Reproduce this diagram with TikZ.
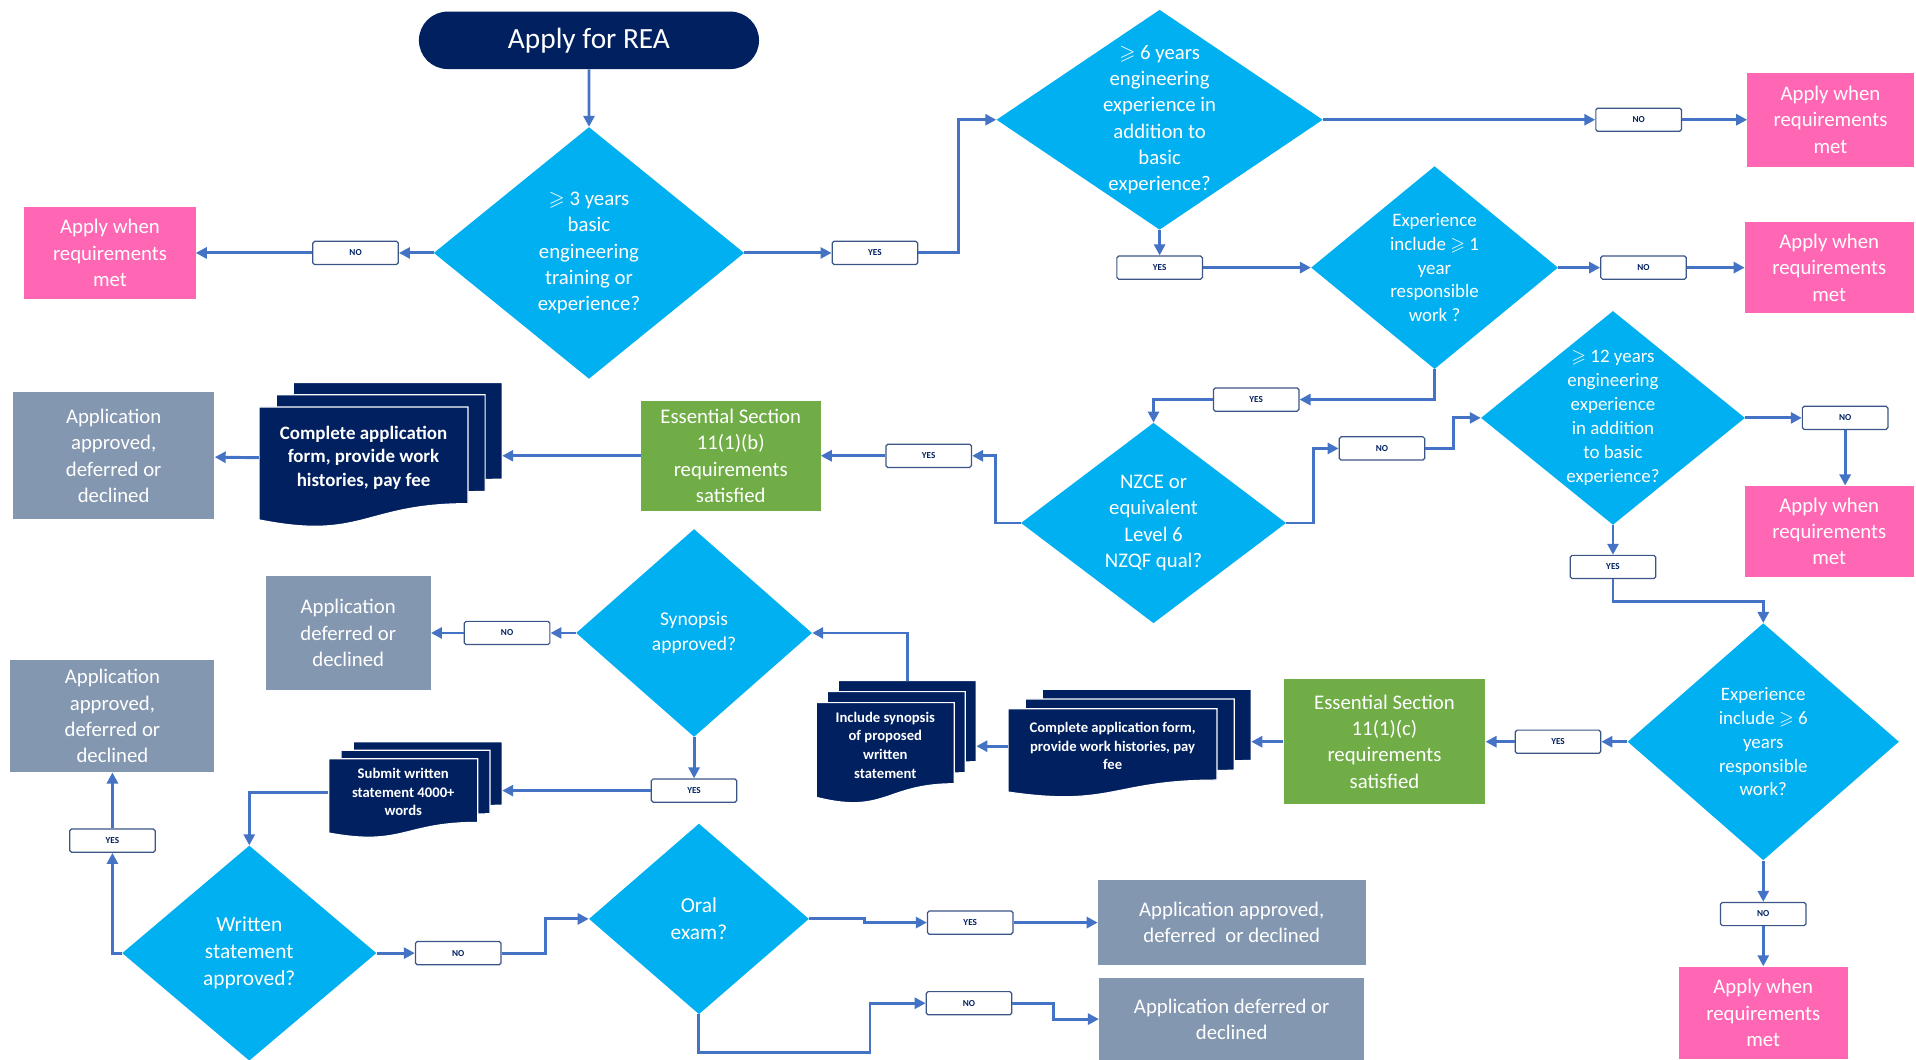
\documentclass[tikz,border=0pt]{standalone}
\usepackage{amsmath,amssymb}
\usepackage{fontspec}
\setmainfont{Carlito}
\usetikzlibrary{shapes,arrows.meta,positioning,calc}

\definecolor{navy}{HTML}{002060}
\definecolor{decblue}{HTML}{00B0F0}
\definecolor{pinkfill}{HTML}{FF66B3}
\definecolor{greenfill}{HTML}{70AD47}
\definecolor{greyfill}{HTML}{8497B0}
\definecolor{flowblue}{HTML}{4472C4}
\definecolor{tagedge}{HTML}{3B5587}

\newcommand{\bigq}{\fontsize{17}{21.5}\selectfont}
\newcommand{\smallq}{\fontsize{15.5}{19.5}\selectfont}
\newcommand{\docbig}{\fontsize{15.5}{19.5}\selectfont\bfseries}
\newcommand{\docsmall}{\fontsize{12}{15.3}\selectfont\bfseries}

% stack of three documents: name, left, top, width, height, dx, dy, font, text
\newcommand{\docstack}[9]{%
  \foreach \k in {2,1,0}
    \filldraw[docsheet,shift={(#2+\k*#6,#3-\k*#7)}] (0,0) -- (#4,0) -- (#4,0.8*#5)
      .. controls (0.5*#4,0.8*#5) and (0.5*#4,1.107*#5) .. (0,0.934*#5) -- cycle;
  \node[doctext,font=#8,minimum width=#4] (#1) at (#2+#4/2,#3+0.42*#5) {#9};
  \coordinate (#1-back) at (#2+#4+2*#6,#3+0.42*#5);
  \coordinate (#1-top) at (#2+#4/2+2*#6,#3-2*#7);
}

\tikzset{
  terminal/.style={rounded rectangle,fill=navy,text=white,font=\fontsize{24}{28}\selectfont},
  decision/.style={diamond,fill=decblue,inner sep=0pt},
  qtext/.style={text=white,align=center,font=\bigq},
  outcome/.style={rectangle,text=white,align=center,inner sep=2pt,font=\bigq},
  applybox/.style={outcome,fill=pinkfill},
  resultbox/.style={outcome,fill=greyfill},
  essbox/.style={outcome,fill=greenfill},
  tag/.style={rectangle,rounded corners=1.5pt,draw=tagedge,line width=1pt,fill=white,
    minimum width=70,minimum height=19,inner sep=0pt,text=navy,
    font=\fontsize{7.5}{9}\selectfont\bfseries},
  docsheet/.style={fill=navy,draw=white,line width=1pt},
  doctext/.style={text=white,align=center,inner sep=0pt},
  flow/.style={draw=flowblue,line width=2.4pt,-{Triangle[length=9pt,width=9pt]}}
}

\begin{document}
\begin{tikzpicture}[x=1pt,y=-1pt]
\useasboundingbox (0,0) rectangle (1568,867);

% Start and first check
\node[terminal,minimum width=285,minimum height=47] (start) at (482,33) {Apply for REA};
\node[decision,minimum width=254,minimum height=206,
  label={[qtext]center:{$\geqslant$ 3 years\\basic\\engineering\\training or\\experience?}}] (basic) at (482,207) {};
\node[applybox,minimum width=140,minimum height=75] (apply1) at (90,207) {Apply when\\requirements\\met};
\node[tag] (no1) at (291,207) {NO};
\node[tag] (yes1) at (716,207) {YES};

% 6 years branch
\node[decision,minimum width=267,minimum height=180,
  label={[qtext]center:{$\geqslant$ 6 years\\engineering\\experience in\\addition to\\basic\\experience?}}] (six) at (949,98) {};
\node[tag] (no2) at (1341,98) {NO};
\node[applybox,minimum width=136,minimum height=77] (apply2) at (1498,98) {Apply when\\requirements\\met};
\node[tag] (yes2) at (949,219) {YES};
\node[decision,minimum width=202,minimum height=166,
  label={[qtext,font=\smallq]center:{Experience\\include $\geqslant$ 1\\year\\responsible\\work ?}}] (resp1) at (1174,219) {};
\node[tag] (no3) at (1345,219) {NO};
\node[applybox,minimum width=138,minimum height=74] (apply3) at (1497,219) {Apply when\\requirements\\met};
\node[tag] (yes3) at (1028,327) {YES};

% NZCE and 12 years
\node[decision,minimum width=217,minimum height=164,
  label={[qtext]center:{NZCE or\\equivalent\\Level 6\\NZQF qual?}}] (nzce) at (944,428) {};
\node[tag] (no4) at (1131,367) {NO};
\node[decision,minimum width=216,minimum height=175,
  label={[qtext,font=\smallq]center:{$\geqslant$ 12 years\\engineering\\experience\\in addition\\to basic\\experience?}}] (twelve) at (1320,342) {};
\node[tag] (no5) at (1510,342) {NO};
\node[applybox,minimum width=138,minimum height=75] (apply4) at (1497,435) {Apply when\\requirements\\met};
\node[tag] (yes5) at (1320,464) {YES};
\node[decision,minimum width=222,minimum height=194,
  label={[qtext,font=\smallq]center:{Experience\\include $\geqslant$ 6\\years\\responsible\\work?}}] (resp6) at (1443,607) {};
\node[tag] (yes6) at (1275,607) {YES};
\node[tag] (no6) at (1443,748) {NO};
\node[applybox,minimum width=138,minimum height=76] (apply5) at (1443,829) {Apply when\\requirements\\met};

% Section 11(1)(b)
\node[tag] (yes4) at (760,373) {YES};
\node[essbox,minimum width=147,minimum height=90] (essb) at (598,373) {Essential Section\\11(1)(b)\\requirements\\satisfied};
\docstack{formb}{212}{333}{171}{99}{14}{10}{\docbig}{Complete application\\form, provide work\\histories, pay fee}
\node[resultbox,minimum width=165,minimum height=104] (result1) at (93,373) {Application\\approved,\\deferred or\\declined};

% Section 11(1)(c)
\node[essbox,minimum width=165,minimum height=102] (essc) at (1133,607) {Essential Section\\11(1)(c)\\requirements\\satisfied};
\docstack{formc}{825}{580}{171}{73}{14}{8}{\docsmall}{Complete application form,\\provide work histories, pay\\fee}
\docstack{synop}{668}{575}{113}{83}{9}{9}{\docsmall}{Include synopsis\\of proposed\\written\\statement}
\node[decision,minimum width=193,minimum height=170,
  label={[qtext,font=\fontsize{16}{20}\selectfont]center:{Synopsis\\approved?}}] (synok) at (568,518) {};
\node[tag] (no7) at (415,518) {NO};
\node[resultbox,minimum width=135,minimum height=94] (defer1) at (285,518) {Application\\deferred or\\declined};
\node[tag] (yes7) at (568,647) {YES};
\docstack{submit}{269}{621}{122}{65}{10}{7}{\docsmall}{Submit written\\statement 4000+\\words}
\node[decision,minimum width=208,minimum height=176,
  label={[qtext,font=\fontsize{17.5}{22}\selectfont]center:{Written\\statement\\approved?}}] (written) at (204,780) {};
\node[tag] (yes8) at (92,688) {YES};
\node[resultbox,minimum width=167,minimum height=92] (result2) at (92,586) {Application\\approved,\\deferred or\\declined};
\node[tag] (no8) at (375,780) {NO};
\node[decision,minimum width=180,minimum height=156,
  label={[qtext,font=\fontsize{17.5}{22}\selectfont]center:{Oral\\exam?}}] (oral) at (572,752) {};
\node[tag] (yes9) at (794,755) {YES};
\node[resultbox,minimum width=219,minimum height=70] (result3) at (1008,755) {Application approved,\\deferred~ or declined};
\node[tag] (no9) at (793,821) {NO};
\node[resultbox,minimum width=217,minimum height=67] (defer2) at (1008,834) {Application deferred or\\declined};

% Connectors
\draw[flow] (start) -- (basic);
\draw[flow] (basic.west) -- (no1);
\draw[flow] (no1) -- (apply1);
\draw[flow] (basic.east) -- (yes1);
\draw[flow] (yes1.east) -- ++(33,0) |- (six.west);
\draw[flow] (six.east) -- (no2);
\draw[flow] (no2) -- (apply2);
\draw[flow] (six.south) -- (yes2);
\draw[flow] (yes2) -- (resp1.west);
\draw[flow] (resp1.east) -- (no3);
\draw[flow] (no3) -- (apply3);
\draw[flow] (resp1.south) |- (yes3.east);
\draw[flow] (yes3.west) -| (nzce.north);
\draw[flow] (nzce.east) -- ++(22,0) |- (no4.west);
\draw[flow] (no4.east) -- ++(23,0) |- (twelve.west);
\draw[flow] (twelve.east) -- (no5);
\draw[flow] (no5) -- (no5 |- apply4.north);
\draw[flow] (twelve.south) -- (yes5);
\draw[flow] (yes5.south) -- ++(0,18) -| (resp6.north);
\draw[flow] (resp6.south) -- (no6);
\draw[flow] (no6) -- (apply5);
\draw[flow] (resp6.west) -- (yes6);
\draw[flow] (yes6) -- (essc);
\draw[flow] (essc.west) -- (essc.west -| formc-back);
\draw[flow] (formc.west) -- (formc.west -| synop-back);
\draw[flow] (synop-top) |- (synok.east);
\draw[flow] (synok.west) -- (no7);
\draw[flow] (no7) -- (defer1);
\draw[flow] (synok.south) -- (yes7);
\draw[flow] (yes7.west) -- (yes7.west -| submit-back);
\draw[flow] (submit.west) -| (written.north);
\draw[flow] (written.west) -| (yes8.south);
\draw[flow] (yes8) -- (result2);
\draw[flow] (written.east) -- (no8);
\draw[flow] (no8.east) -- ++(36,0) |- (oral.west);
\draw[flow] (oral.east) -- ++(45,0) |- (yes9.west);
\draw[flow] (yes9) -- (result3);
\draw[flow] (oral.south) |- ++(140,31) |- (no9.west);
\draw[flow] (no9.east) -- ++(34,0) |- (defer2.west);
\draw[flow] (nzce.west) -- ++(-21,0) |- (yes4.east);
\draw[flow] (yes4) -- (essb);
\draw[flow] (essb.west) -- (essb.west -| formb-back);
\draw[flow] (formb.west) -- (result1);
\end{tikzpicture}
\end{document}
